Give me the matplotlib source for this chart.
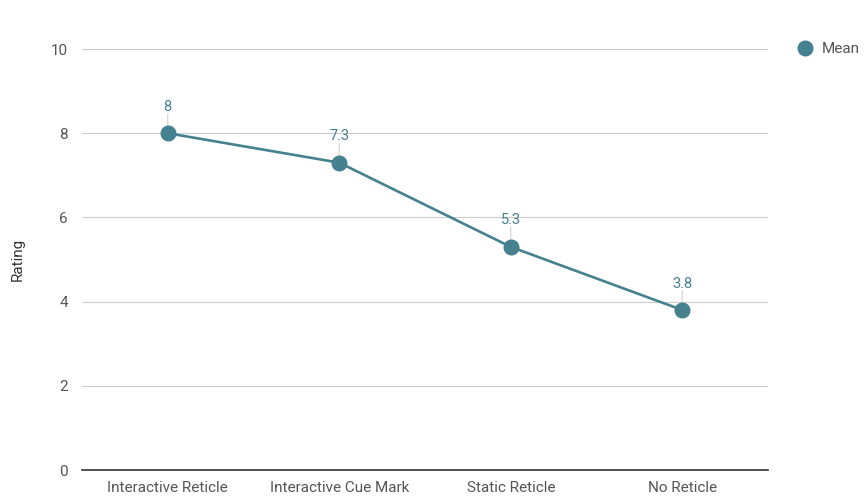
import matplotlib.pyplot as plt
from matplotlib.lines import Line2D

plt.rcParams['font.family'] = ['Roboto', 'DejaVu Sans']

categories = ["Interactive Reticle", "Interactive Cue Mark", "Static Reticle", "No Reticle"]
mean_values = [8.0, 7.3, 5.3, 3.8]
value_labels = ["8", "7.3", "5.3", "3.8"]
y_ticks = [0, 2, 4, 6, 8, 10]

teal = "#45818e"
text_grey = "#555555"

fig = plt.figure(figsize=(8.64, 4.99), dpi=100)
ax = fig.add_axes([0.0949, 0.0581, 0.794, 0.8437])

x = list(range(len(categories)))
ax.plot(x, mean_values, color=teal, linewidth=1.9, marker='o', markersize=10.5,
        zorder=3, clip_on=False)

for xi, v, lab in zip(x, mean_values, value_labels):
    ax.annotate(lab, xy=(xi, v), xytext=(0, 14), textcoords='offset points',
                ha='center', va='bottom', color=teal, fontsize=10.5)
    ax.annotate("", xy=(xi, v), xytext=(0, 14), textcoords='offset points',
                arrowprops=dict(arrowstyle='-', color='#d0d0d0', lw=0.8,
                                shrinkA=0, shrinkB=4), zorder=2)

ax.set_xlim(-0.5, 3.5)
ax.set_ylim(0, 10)
ax.set_yticks(y_ticks)
ax.set_xticks(x)
ax.set_xticklabels(categories)
ax.grid(axis='y', color='#cccccc', linewidth=0.8)
ax.set_axisbelow(True)
for s in ['top', 'right', 'left']:
    ax.spines[s].set_visible(False)
ax.spines['bottom'].set_color('#333333')
ax.spines['bottom'].set_linewidth(1.2)
ax.tick_params(axis='both', length=0, colors=text_grey, labelsize=11)
ax.tick_params(axis='y', pad=10)
ax.tick_params(axis='x', pad=8)
ax.set_ylabel("Rating", color='#333333', fontsize=11, labelpad=19)

handle = Line2D([], [], color=teal, marker='o', linestyle='none', markersize=10.5)
fig.legend(handles=[handle], labels=["Mean"], loc='center left',
           bbox_to_anchor=(0.898, 0.902), frameon=False, handletextpad=0.1,
           labelcolor=text_grey, fontsize=11)

fig.savefig("out.png", dpi=100)
